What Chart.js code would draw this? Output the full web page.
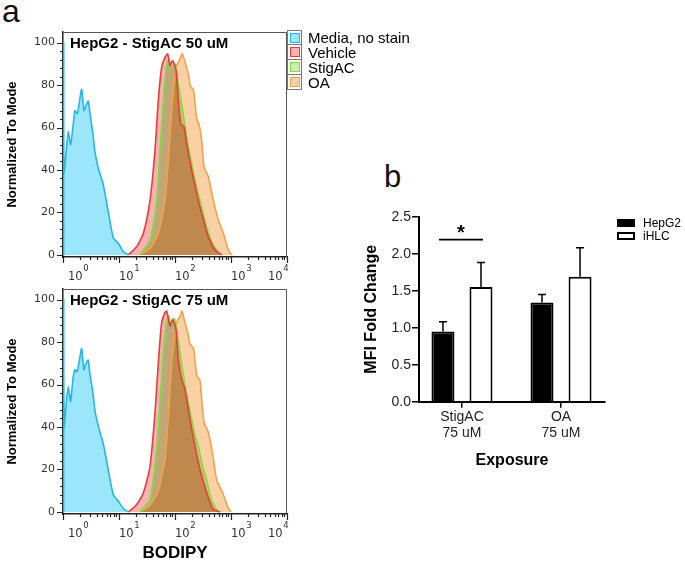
<!DOCTYPE html>
<html>
<head>
<meta charset="utf-8">
<script src="https://cdn.jsdelivr.net/npm/chart.js@4.4.1/dist/chart.umd.min.js"></script>
<style>
  html, body { margin: 0; padding: 0; background: #fff; }
  #fig { position: relative; width: 685px; height: 562px; overflow: hidden; font-family: "Liberation Sans", Arial, sans-serif; color: #000; }
  #fig canvas { position: absolute; }
  .tag { position: absolute; line-height: 1; color: #111; }
  #histLegend { position: absolute; left: 287px; top: 30px; }
  .hrow { display: flex; align-items: center; height: 15px; }
  .hbox { position: relative; width: 15px; height: 16px; box-sizing: border-box; border: 1px solid #777; margin-top: -1px; }
  .hrow:first-child .hbox { margin-top: 0; height: 15px; }
  .hbox i { position: absolute; left: 2px; top: 2px; width: 10px; height: 10px; box-sizing: border-box; border: 1px solid; }
  .hrow span { margin-left: 6px; font-size: 15px; line-height: 15px; }
  .bleg { position: absolute; left: 617px; font-size: 12px; line-height: 13px; }
  .bleg i { position: absolute; left: 0; width: 18px; height: 8px; box-sizing: border-box; border: 2px solid #000; }
  .bleg span { position: absolute; left: 26px; top: -2.5px; white-space: nowrap; }
</style>
</head>
<body>
<div id="fig">
  <div class="tag" style="left:2px; top:-5px; font-size:32px;">a</div>
  <div class="tag" style="left:384px; top:161px; font-size:31px;">b</div>
  <canvas id="histTop" width="300" height="290" style="left:0; top:0;"></canvas>
  <canvas id="histBottom" width="300" height="292" style="left:0; top:270px;"></canvas>
  <div id="histLegend"></div>
  <canvas id="barChart" width="330" height="280" style="left:355px; top:200px;"></canvas>
  <div class="bleg" style="top:219px;"><i style="background:#000;"></i><span>HepG2</span></div>
  <div class="bleg" style="top:232px;"><i style="background:#fff;"></i><span>iHLC</span></div>
</div>
<script>
Chart.defaults.font.family = '"Liberation Sans", Arial, sans-serif';

// ---- panel a: histograms, points are [log10(BODIPY), % of mode] ----
const histLabels = ['Media, no stain', 'Vehicle', 'StigAC', 'OA'];
const histStroke = ['#25b6ea', '#ec3b3b', '#7ede45', '#f6a249'];
const histFill = ['#9be6fb', '#f7b2b2', '#c8f0aa', '#fbd0a4'];
const histYTicks = [0, 20, 40, 60, 80, 100];
const histYMinorStep = 4;
const histXPowers = [0, 1, 2, 3, 4];
const histXLabelShift = [5, 0, 0, 0, -19];

const mediaTop = [[0.012,0],[0.012,100],[0.018,39],[0.065,51],[0.095,58],[0.137,52],[0.185,62],[0.214,68],[0.256,66.5],[0.292,72],[0.333,78],[0.375,68],[0.411,70.5],[0.452,72.5],[0.482,66.5],[0.53,58],[0.571,48.5],[0.631,40.7],[0.72,33],[0.81,20],[0.899,8],[0.988,5.5],[1.077,1.6],[1.167,0]];
const vehicleTop = [[1.167,0],[1.315,3.9],[1.435,10.2],[1.554,25.8],[1.643,49.3],[1.702,72.8],[1.762,88.4],[1.821,93.1],[1.869,94.7],[1.911,89.2],[1.958,91.5],[2.018,86.9],[2.06,72.8],[2.101,61.8],[2.161,60.2],[2.208,52.4],[2.298,39.9],[2.387,29],[2.476,19.6],[2.595,8.6],[2.714,2.3],[2.833,0]];
const stigTop = [[1.375,0],[1.554,7],[1.673,25.8],[1.732,49.3],[1.792,72.8],[1.839,86.9],[1.887,92.3],[1.94,88.4],[2.0,90],[2.06,80.6],[2.137,68],[2.208,55.5],[2.298,43],[2.387,32],[2.476,22.7],[2.565,13.3],[2.684,4.7],[2.804,0]];
const oaTop = [[1.375,0],[1.554,3.1],[1.702,10.2],[1.821,25.8],[1.881,44.6],[1.94,68],[1.982,80.6],[2.03,89.2],[2.089,92.3],[2.131,94.7],[2.179,90.8],[2.238,85.3],[2.28,79],[2.327,78.2],[2.387,64.2],[2.434,61],[2.476,54],[2.518,41.5],[2.595,36.8],[2.684,25.8],[2.774,16.4],[2.863,10.2],[2.952,2.3],[3.012,0]];

const mediaBottom = [[0.012,0],[0.012,100],[0.018,40],[0.06,52],[0.095,59],[0.135,52],[0.18,63],[0.214,67],[0.25,66],[0.29,71],[0.333,77],[0.372,67],[0.41,70],[0.45,71.5],[0.48,65],[0.53,57],[0.575,47],[0.635,40],[0.72,32],[0.81,19.5],[0.9,8],[0.99,5],[1.08,1.5],[1.17,0]];
const vehicleBottom = [[1.167,0],[1.3,3],[1.435,9],[1.554,21.5],[1.643,46.7],[1.702,70.3],[1.762,89.2],[1.821,93.9],[1.851,94.6],[1.911,87.5],[1.958,90.7],[2.018,86],[2.06,71.8],[2.119,62.4],[2.179,57.7],[2.268,43.5],[2.357,30.9],[2.446,20],[2.565,9],[2.684,1.1],[2.804,0]];
const stigBottom = [[1.375,0],[1.554,6],[1.673,30],[1.732,52],[1.78,72],[1.83,86],[1.881,92.5],[1.93,88],[1.99,91],[2.05,82],[2.13,68],[2.2,56],[2.28,46],[2.36,36],[2.417,31],[2.49,22],[2.565,15],[2.66,5],[2.77,0]];
const oaBottom = [[1.375,0],[1.554,3],[1.702,10],[1.821,25],[1.881,45],[1.94,70],[1.99,82],[2.04,90],[2.09,92],[2.125,94.6],[2.17,90],[2.23,84],[2.268,79],[2.33,77],[2.39,64],[2.446,62],[2.48,52],[2.52,42],[2.595,37.5],[2.68,26],[2.744,15],[2.85,9],[2.94,2.5],[3.0,0]];

// ---- panel b: MFI fold change ----
const barCategories = [['StigAC', '75 uM'], ['OA', '75 uM']];
const barGroups = ['HepG2', 'iHLC'];
const hepg2Mean = [0.95, 1.34];
const hepg2Err = [0.13, 0.11];
const ihlcMean = [1.55, 1.69];
const ihlcErr = [0.33, 0.39];
const barYTicks = [0, 0.5, 1.0, 1.5, 2.0, 2.5];
const sigCategory = 0;
const sigLineValue = 2.19;

// fills are multiplied together like the cytometry overlay, lines drawn normally on top
const multiplyFills = {
  id: 'multiplyFills',
  beforeDraw(chart) { chart.ctx.globalCompositeOperation = 'multiply'; },
  beforeDatasetsDraw(chart) { chart.ctx.globalCompositeOperation = 'source-over'; }
};

const histDecor = {
  id: 'histDecor',
  afterDraw(chart, args, opts) {
    const { ctx, chartArea: a, scales: { x, y } } = chart;
    ctx.save();
    ctx.globalCompositeOperation = 'source-over';

    // top + right frame
    ctx.strokeStyle = '#555';
    ctx.lineWidth = 1;
    ctx.beginPath();
    ctx.moveTo(a.left, a.top + 0.5);
    ctx.lineTo(a.right - 0.5, a.top + 0.5);
    ctx.lineTo(a.right - 0.5, a.bottom);
    ctx.stroke();

    // tick marks
    ctx.strokeStyle = '#222';
    ctx.lineWidth = 1.2;
    ctx.beginPath();
    const yLast = histYTicks[histYTicks.length - 1];
    for (let v = histYTicks[0]; v <= yLast; v += histYMinorStep) {
      const py = Math.round(y.getPixelForValue(v)) + 0.5;
      const len = histYTicks.includes(v) ? 6 : 3;
      ctx.moveTo(a.left - len, py);
      ctx.lineTo(a.left, py);
    }
    const xMax = Math.pow(10, histXPowers[histXPowers.length - 1]);
    histXPowers.forEach(p => {
      for (let m = 1; m <= 9; m++) {
        const v = m * Math.pow(10, p);
        if (v > xMax) break;
        const px = Math.round(x.getPixelForValue(v)) + 0.5;
        const len = m === 1 ? 6 : 3;
        ctx.moveTo(px, a.bottom);
        ctx.lineTo(px, a.bottom + len);
      }
    });
    ctx.stroke();

    // decade labels 10^n
    ctx.fillStyle = '#333';
    ctx.textAlign = 'left';
    ctx.textBaseline = 'alphabetic';
    histXPowers.forEach((p, i) => {
      const px = x.getPixelForValue(Math.pow(10, p)) + histXLabelShift[i];
      ctx.font = '11.5px "DejaVu Sans"';
      ctx.fillText('10', px, a.bottom + 22.5);
      const w = ctx.measureText('10').width;
      ctx.font = '8.5px "DejaVu Sans"';
      ctx.fillText(String(p), px + w + 0.5, a.bottom + 14);
    });

    // panel title
    ctx.fillStyle = '#000';
    ctx.font = 'bold 15px "Liberation Sans", Arial, sans-serif';
    ctx.textBaseline = 'middle';
    ctx.fillText(opts.title, a.left + 7, a.top + 12);
    ctx.restore();
  }
};

function makeHist(canvasId, series, panelTitle, padTop, axisHeight, showXTitle) {
  return new Chart(document.getElementById(canvasId), {
    type: 'line',
    data: {
      datasets: series.map((pts, i) => ({
        label: histLabels[i],
        data: pts.map(([e, v]) => ({ x: Math.pow(10, e), y: v })),
        borderColor: histStroke[i],
        backgroundColor: histFill[i],
        borderWidth: 1.6,
        fill: 'origin',
        tension: 0.2,
        pointRadius: 0,
        clip: { left: 2, top: 0, right: 0, bottom: 0 }
      }))
    },
    options: {
      responsive: false,
      animation: false,
      layout: { padding: { top: padTop, right: 13, left: 0, bottom: 0 } },
      plugins: {
        legend: { display: false },
        tooltip: { enabled: false },
        filler: { drawTime: 'beforeDatasetsDraw' },
        histDecor: { title: panelTitle }
      },
      scales: {
        x: {
          type: 'logarithmic',
          min: 1,
          max: 10000,
          grid: { display: false, drawTicks: false },
          border: { color: '#222', width: 1.5 },
          ticks: { display: false },
          title: { display: showXTitle, text: 'BODIPY', color: '#000', font: { size: 17, weight: 'bold', lineHeight: 1 }, padding: 0 },
          afterFit: s => { s.height = axisHeight; }
        },
        y: {
          min: -1,
          max: 105,
          grid: { display: false, drawTicks: false },
          border: { color: '#222', width: 1.5 },
          ticks: { color: '#333', padding: 8, font: { family: '"DejaVu Sans"', size: 11 } },
          afterBuildTicks: s => { s.ticks = histYTicks.map(v => ({ value: v })); },
          title: { display: true, text: 'Normalized To Mode', color: '#000', font: { size: 13, weight: 'bold', lineHeight: 1.2 }, padding: { top: 5, bottom: 0 } },
          afterFit: s => { s.width = 63; }
        }
      }
    },
    plugins: [multiplyFills, histDecor]
  });
}

makeHist('histTop', [mediaTop, vehicleTop, stigTop, oaTop], 'HepG2 - StigAC 50 uM', 32, 33, false);
makeHist('histBottom', [mediaBottom, vehicleBottom, stigBottom, oaBottom], 'HepG2 - StigAC 75 uM', 19, 48, true);

// legend for panel a
const legendEl = document.getElementById('histLegend');
histLabels.forEach((lab, i) => {
  const row = document.createElement('div');
  row.className = 'hrow';
  row.innerHTML = '<div class="hbox"><i style="background:' + histFill[i] + ';border-color:' + histStroke[i] + '"></i></div><span>' + lab + '</span>';
  legendEl.appendChild(row);
});

/* ---- bar chart ---- */
const barDecor = {
  id: 'barDecor',
  afterDatasetsDraw(chart) {
    const { ctx, scales: { y } } = chart;
    ctx.save();
    ctx.strokeStyle = '#000';
    ctx.fillStyle = '#000';
    ctx.lineWidth = 1.5;
    chart.data.datasets.forEach((ds, di) => {
      chart.getDatasetMeta(di).data.forEach((bar, i) => {
        const top = y.getPixelForValue(ds.data[i].y + ds.errors[i]);
        ctx.beginPath();
        ctx.moveTo(bar.x, bar.y);
        ctx.lineTo(bar.x, top);
        ctx.moveTo(bar.x - 4, top);
        ctx.lineTo(bar.x + 4, top);
        ctx.stroke();
      });
    });

    // significance bar
    const b0 = chart.getDatasetMeta(0).data[sigCategory];
    const b1 = chart.getDatasetMeta(1).data[sigCategory];
    const ly = y.getPixelForValue(sigLineValue);
    ctx.lineWidth = 1.8;
    ctx.beginPath();
    ctx.moveTo(b0.x - 4, ly);
    ctx.lineTo(b1.x + 2, ly);
    ctx.stroke();
    ctx.font = 'bold 20px "Liberation Sans", Arial, sans-serif';
    ctx.textAlign = 'center';
    ctx.textBaseline = 'alphabetic';
    ctx.fillText('*', (b0.x + b1.x) / 2 - 1, ly - 0.5);
    ctx.restore();
  }
};

new Chart(document.getElementById('barChart'), {
  type: 'bar',
  data: {
    datasets: [
      {
        label: barGroups[0],
        data: hepg2Mean.map((v, i) => ({ x: i, y: v })),
        errors: hepg2Err,
        backgroundColor: '#000',
        borderColor: '#000',
        borderWidth: 2,
        categoryPercentage: 0.768,
        barPercentage: 0.605
      },
      {
        label: barGroups[1],
        data: ihlcMean.map((v, i) => ({ x: i, y: v })),
        errors: ihlcErr,
        backgroundColor: '#fff',
        borderColor: '#000',
        borderWidth: 2,
        categoryPercentage: 0.768,
        barPercentage: 0.605
      }
    ]
  },
  options: {
    responsive: false,
    animation: false,
    layout: { padding: { top: 16.7, right: 80, left: 0, bottom: 0 } },
    plugins: { legend: { display: false }, tooltip: { enabled: false } },
    scales: {
      x: {
        type: 'linear',
        min: -0.434,
        max: 1.444,
        offset: false,
        grid: { drawOnChartArea: false, drawTicks: true, tickLength: 6, color: '#000', lineWidth: 1.5, offset: false },
        border: { color: '#000', width: 2 },
        ticks: { color: '#222', padding: 1, font: { size: 14, lineHeight: 1.15 }, callback: (v, i) => barCategories[i] },
        afterBuildTicks: s => { s.ticks = barCategories.map((c, i) => ({ value: i })); },
        title: { display: true, text: 'Exposure', color: '#000', font: { size: 16, weight: 'bold', lineHeight: 1.2 }, padding: { top: 0, bottom: 10 } },
        afterFit: s => { s.height = 78.3; }
      },
      y: {
        min: 0,
        max: 2.5,
        grid: { drawOnChartArea: false, drawTicks: true, tickLength: 7, color: '#000', lineWidth: 1.5 },
        border: { color: '#000', width: 2 },
        ticks: { color: '#222', padding: 1, font: { size: 14 }, callback: v => v.toFixed(1) },
        afterBuildTicks: s => { s.ticks = barYTicks.map(v => ({ value: v })); },
        title: { display: true, text: 'MFI Fold Change', color: '#000', font: { size: 16, weight: 'bold', lineHeight: 1.2 }, padding: { top: 7, bottom: 0 } },
        afterFit: s => { s.width = 64; }
      }
    }
  },
  plugins: [barDecor]
});
</script>
</body>
</html>
